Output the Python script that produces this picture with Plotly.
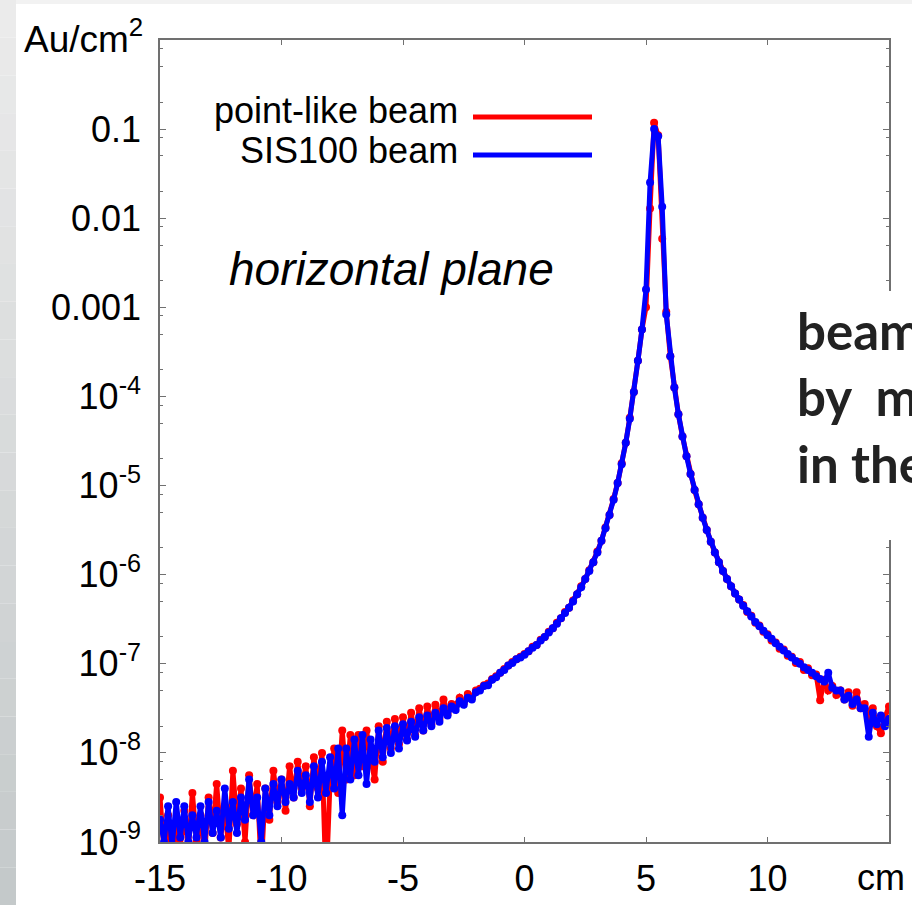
import numpy as np
import plotly.graph_objects as go

# ---------------- data ----------------
x_cm = np.linspace(-15, 15, 181)  # bin centres, 1/6 cm apart

sis100_log10 = [
    -8.75, -9.0, -8.6, -9.05, -8.55, -8.95,
    -8.6, -9.0, -8.7, -8.95, -8.6, -9.0,
    -8.55, -8.9, -8.65, -8.95, -8.4, -8.85,
    -8.55, -8.9, -8.5, -8.75, -8.3, -8.7,
    -8.5, -9.0, -8.4, -8.7, -8.35, -8.6,
    -8.3, -8.55, -8.35, -8.5, -8.2, -8.45,
    -8.25, -8.55, -8.15, -8.5, -8.1, -8.45,
    -8.05, -8.4, -7.95, -8.7, -7.95, -8.3,
    -7.85, -8.25, -7.8, -8.35, -7.85, -8.1,
    -7.75, -8.05, -7.72, -8.0, -7.7, -7.95,
    -7.68, -7.86, -7.65, -7.82, -7.6, -7.75,
    -7.58, -7.7, -7.55, -7.65, -7.5, -7.58,
    -7.48, -7.52, -7.42, -7.46, -7.38, -7.4,
    -7.32, -7.3, -7.25, -7.24, -7.18, -7.15,
    -7.1, -7.07, -7.02, -6.99, -6.95, -6.93,
    -6.9, -6.86, -6.82, -6.79, -6.74, -6.7,
    -6.65, -6.6, -6.55, -6.49, -6.43, -6.37,
    -6.3, -6.22, -6.14, -6.05, -5.96, -5.86,
    -5.75, -5.62, -5.48, -5.33, -5.16, -4.97,
    -4.76, -4.52, -4.25, -3.95, -3.6, -3.25,
    -2.8, -1.6, -1.0, -1.08, -1.87, -3.08,
    -3.55, -3.9, -4.2, -4.45, -4.67, -4.87,
    -5.05, -5.21, -5.36, -5.5, -5.63, -5.75,
    -5.86, -5.96, -6.05, -6.13, -6.21, -6.28,
    -6.35, -6.41, -6.47, -6.53, -6.58, -6.63,
    -6.68, -6.72, -6.77, -6.81, -6.85, -6.89,
    -6.93, -6.97, -7.0, -7.04, -7.07, -7.1,
    -7.14, -7.17, -7.2, -7.1, -7.27, -7.3,
    -7.3, -7.4, -7.36, -7.45, -7.4, -7.5,
    -7.5, -7.82, -7.55, -7.68, -7.58, -7.7,
    -7.62,
]

point_like_log10 = [
    -8.5, -9.1, -8.7, -9.2, -8.8, -9.05,
    -8.65, -9.1, -8.45, -9.0, -8.7, -9.15,
    -8.5, -8.9, -8.35, -8.95, -8.6, -9.1,
    -8.2, -8.8, -8.4, -9.0, -8.25, -8.7,
    -8.35, -9.3, -8.4, -8.75, -8.2, -8.55,
    -8.3, -8.65, -8.15, -8.5, -8.1, -8.4,
    -8.15, -8.6, -8.05, -8.4, -8.0, -9.5,
    -8.3, -7.95, -8.45, -7.75, -8.3, -7.8,
    -8.25, -7.8, -8.15, -7.75, -8.05, -8.3,
    -7.7, -8.1, -7.65, -7.95, -7.62, -7.9,
    -7.6, -7.85, -7.55, -7.8, -7.5, -7.75,
    -7.48, -7.68, -7.46, -7.62, -7.4, -7.56,
    -7.45, -7.47, -7.38, -7.44, -7.34, -7.38,
    -7.3, -7.28, -7.24, -7.22, -7.17, -7.14,
    -7.1, -7.06, -7.02, -6.98, -6.95, -6.92,
    -6.89, -6.86, -6.81, -6.79, -6.73, -6.7,
    -6.64, -6.6, -6.54, -6.49, -6.42, -6.37,
    -6.29, -6.22, -6.13, -6.05, -5.95, -5.86,
    -5.74, -5.62, -5.47, -5.33, -5.15, -4.97,
    -4.75, -4.52, -4.24, -3.95, -3.6, -3.25,
    -3.0, -1.89, -0.93, -1.07, -2.23, -3.05,
    -3.55, -3.9, -4.2, -4.45, -4.67, -4.87,
    -5.05, -5.21, -5.36, -5.5, -5.63, -5.75,
    -5.86, -5.96, -6.05, -6.13, -6.21, -6.28,
    -6.34, -6.42, -6.46, -6.54, -6.57, -6.64,
    -6.67, -6.74, -6.76, -6.83, -6.84, -6.91,
    -6.92, -6.99, -6.98, -7.07, -7.05, -7.13,
    -7.12, -7.41, -7.18, -7.3, -7.25, -7.35,
    -7.3, -7.4, -7.32, -7.47, -7.32, -7.5,
    -7.45, -7.6, -7.5, -7.7, -7.78, -7.6,
    -7.48,
]

series_names = ["point-like beam", "SIS100 beam"]
series_colors = ["#ff0000", "#0000ff"]

y_tickvals = [1e-9, 1e-8, 1e-7, 1e-6, 1e-5, 1e-4, 1e-3, 1e-2, 1e-1]
y_ticktext = ["10<sup>-9</sup>", "10<sup>-8</sup>", "10<sup>-7</sup>", "10<sup>-6</sup>",
              "10<sup>-5</sup>", "10<sup>-4</sup>", "0.001", "0.01", "0.1"]
y_minor = [m * 10.0 ** e for e in range(-9, 0) for m in (2, 5, 8)]
x_tickvals = [-15, -10, -5, 0, 5, 10, 15]
x_ticktext = ["-15", "-10", "-5", "0", "5", "10", ""]
x_unit = "cm"

# ---------------- figure ----------------
W, H = 912, 905
L, R, T, B = 160, 23, 40, 63
pw, ph = W - L - R, H - T - B


def px(xp):
    return (xp - L) / pw


def py(yp):
    return (H - B - yp) / ph


FONT = "Liberation Sans, Arial, sans-serif"
fig = go.Figure()

for name, vals, col in zip(series_names, [point_like_log10, sis100_log10], series_colors):
    fig.add_trace(go.Scatter(
        x=x_cm, y=[10.0 ** v for v in vals], mode="lines+markers", name=name,
        line=dict(color=col, width=5), marker=dict(color=col, size=8, symbol="circle"),
        cliponaxis=True, showlegend=False,
    ))

shapes = []
# slide background: top strip and left gradient strip
shapes.append(dict(type="rect", xref="paper", yref="paper", x0=px(0), x1=px(W), y0=py(4), y1=py(0),
                   fillcolor="#f2f2f2", line=dict(width=0), layer="below"))
nb = 24
for k in range(nb):
    y0p = k * H / nb
    y1p = (k + 1) * H / nb
    t = (k + 0.5) / nb
    c0 = np.array([236, 236, 236])
    c1 = np.array([196, 201, 202])
    c = (c0 + (c1 - c0) * t).astype(int)
    shapes.append(dict(type="rect", xref="paper", yref="paper", x0=px(0), x1=px(16),
                       y0=py(y1p), y1=py(y0p), fillcolor="rgb(%d,%d,%d)" % tuple(c),
                       line=dict(width=0), layer="below"))
# legend keys
shapes.append(dict(type="line", xref="paper", yref="paper", x0=px(473), x1=px(592), y0=py(117), y1=py(117),
                   line=dict(color=series_colors[0], width=5)))
shapes.append(dict(type="line", xref="paper", yref="paper", x0=px(473), x1=px(592), y0=py(155), y1=py(155),
                   line=dict(color=series_colors[1], width=5)))
# slide text box covering part of the frame
shapes.append(dict(type="rect", xref="paper", yref="paper", x0=px(787), x1=px(W + 5), y0=py(540), y1=py(291),
                   fillcolor="white", line=dict(width=0), layer="above"))

annotations = [
    dict(text="Au/cm<sup>2</sup>", xref="paper", yref="paper", x=px(22), y=py(36), xanchor="left",
         yanchor="middle", showarrow=False, font=dict(family=FONT, size=37, color="black")),
    dict(text=series_names[0], xref="paper", yref="paper", x=px(460), y=py(111), xanchor="right",
         yanchor="middle", showarrow=False, font=dict(family=FONT, size=36, color="black")),
    dict(text=series_names[1], xref="paper", yref="paper", x=px(460), y=py(150), xanchor="right",
         yanchor="middle", showarrow=False, font=dict(family=FONT, size=36, color="black")),
    dict(text="<i>horizontal plane</i>", xref="paper", yref="paper", x=px(391), y=py(269), xanchor="center",
         yanchor="middle", showarrow=False, font=dict(family=FONT, size=46, color="black")),
    dict(text=x_unit, xref="paper", yref="paper", x=px(881), y=py(877), xanchor="center",
         yanchor="middle", showarrow=False, font=dict(family=FONT, size=36, color="black")),
    dict(text="beam<br>by\u00a0\u00a0m<br>in the", xref="paper", yref="paper", x=px(795), y=py(397),
         xanchor="left", yanchor="middle", align="left", showarrow=False,
         font=dict(family="Lato, Open Sans, sans-serif", size=51, color="#222222", weight="bold")),
]

axis_common = dict(showline=True, linecolor="#707070", linewidth=1.5, mirror="ticks", ticks="inside",
                   tickcolor="#707070", tickwidth=1.2, showgrid=False, zeroline=False, automargin=False,
                   tickfont=dict(family=FONT, size=36, color="black"))

fig.update_layout(
    width=W, height=H, margin=dict(l=L, r=R, t=T, b=B, pad=0, autoexpand=False),
    paper_bgcolor="white", plot_bgcolor="white",
    shapes=shapes, annotations=annotations,
    xaxis=dict(range=[-15, 15], tickmode="array", tickvals=x_tickvals, ticktext=x_ticktext, ticklen=5,
               ticklabelstandoff=4, **axis_common),
    yaxis=dict(type="log", range=[-9, 0], tickmode="array", tickvals=y_tickvals, ticktext=y_ticktext,
               ticklen=6, ticklabelstandoff=10,
               minor=dict(tickmode="array", tickvals=y_minor, ticklen=3, ticks="inside", tickcolor="#707070"),
               **axis_common),
)

fig.write_html("out.html")
